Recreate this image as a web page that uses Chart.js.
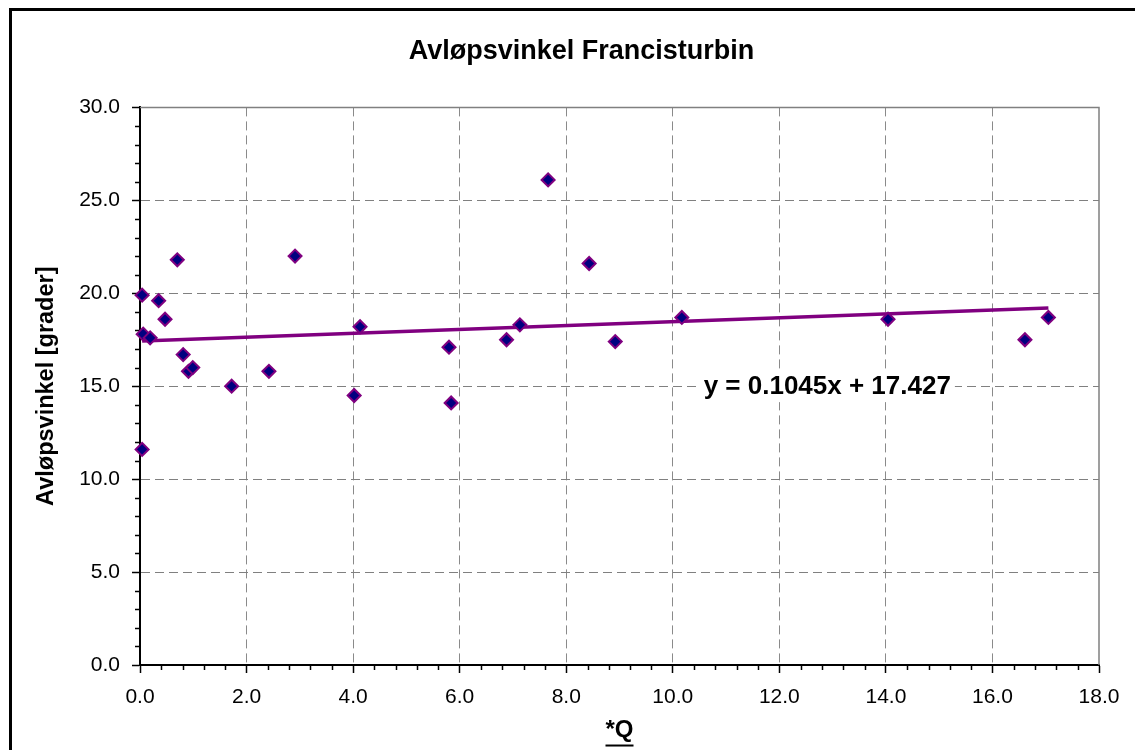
<!doctype html>
<html lang="no">

<head>
  <meta charset="UTF-8">
  <title>Avløpsvinkel Francisturbin</title>
  <style>
    html,
    body {
      margin: 0;
      padding: 0;
      background-color: #fff;
      font-family: 'Liberation Sans', Arial, Helvetica, sans-serif;
    }

    #wrap {
      position: relative;
      width: 1135px;
      height: 750px;
      overflow: hidden;
    }

    #frame {
      position: absolute;
      left: 9px;
      top: 8px;
      width: 1123px;
      height: 800px;
      border: 3px solid #000;
      pointer-events: none;
    }
  </style>
</head>

<body>
  <div id="wrap">
    <canvas id="datavis" width="1135" height="750"></canvas>
    <div id="frame"></div>
  </div>

  <script src="https://cdn.jsdelivr.net/npm/chart.js@4/dist/chart.umd.min.js"></script>

  <script>

    // values
    const qValues = [0.04, 0.04, 0.06, 0.19, 0.35, 0.47, 0.70, 0.81, 0.91, 0.99, 1.72, 2.42, 2.91,
      4.02, 4.13, 5.80, 5.84, 6.88, 7.13, 7.66, 8.43, 8.92, 10.17, 14.04, 16.61, 17.05];
    const angleValues = [19.9, 11.6, 17.8, 17.6, 19.6, 18.6, 21.8, 16.7, 15.8, 16.0, 15.0, 15.8, 22.0,
      14.5, 18.2, 17.1, 14.1, 17.5, 18.3, 26.1, 21.6, 17.4, 18.7, 18.6, 17.5, 18.7];

    // trendline from the equation printed in the chart
    const slope = 0.1045;
    const intercept = 17.427;
    const equationText = 'y = 0.1045x + 17.427';
    const equationAt = { x: 12.9, y: 14.95 };

    const FONT = "'Liberation Sans', Arial, Helvetica, sans-serif";

    const points = qValues.map((q, i) => ({ x: q, y: angleValues[i] }));
    const qMin = Math.min(...qValues);
    const qMax = Math.max(...qValues);
    const trend = [qMin, qMax].map(q => ({ x: q, y: slope * q + intercept }));

    // frame lines, minor ticks, underline of x title, equation label
    const extras = {
      id: 'extras',
      beforeDatasetsDraw(chart) {
        const { ctx, chartArea: a } = chart;
        ctx.save();
        ctx.strokeStyle = '#808080';
        ctx.lineWidth = 1.5;
        ctx.beginPath();
        ctx.moveTo(a.left, a.top);
        ctx.lineTo(a.right, a.top);
        ctx.lineTo(a.right, a.bottom);
        ctx.stroke();

        const xs = chart.scales.x;
        const ys = chart.scales.y;
        ctx.strokeStyle = '#000';
        ctx.lineWidth = 1.5;
        ctx.beginPath();
        for (let i = 1; i < 45; i++) {
          if (i % 5 === 0) continue;
          const px = Math.round(xs.getPixelForValue(i * 0.4)) + 0.5;
          ctx.moveTo(px, a.bottom);
          ctx.lineTo(px, a.bottom + 5);
        }
        for (let i = 1; i < 30; i++) {
          if (i % 5 === 0) continue;
          const py = Math.round(ys.getPixelForValue(i)) + 0.5;
          ctx.moveTo(a.left, py);
          ctx.lineTo(a.left - 5, py);
        }
        ctx.stroke();
        ctx.restore();
      },
      afterDatasetsDraw(chart) {
        const { ctx } = chart;
        const xs = chart.scales.x;
        const ys = chart.scales.y;

        ctx.save();
        ctx.font = 'bold 26px ' + FONT;
        const w = ctx.measureText(equationText).width;
        const cx = xs.getPixelForValue(equationAt.x);
        const cy = ys.getPixelForValue(equationAt.y);
        ctx.fillStyle = '#fff';
        ctx.fillRect(cx - w / 2 - 4, cy - 15, w + 8, 30);
        ctx.fillStyle = '#000';
        ctx.textAlign = 'center';
        ctx.textBaseline = 'middle';
        ctx.fillText(equationText, cx, cy);

        // underline "*Q"
        const t = xs.options.title;
        ctx.font = 'bold ' + t.font.size + 'px ' + FONT;
        const tw = ctx.measureText(t.text).width;
        const tx = (xs.left + xs.right) / 2;
        const ty = xs.bottom - t.padding.bottom - t.font.size * 1.2 / 2 + t.font.size * 0.58;
        ctx.fillRect(tx - tw / 2, ty, tw, 2);
        ctx.restore();
      }
    };

    new Chart('datavis', {
      type: 'scatter',
      data: {
        datasets: [{
          label: 'Avløpsvinkel',
          data: points,
          pointStyle: 'rectRot',
          pointRadius: 6.5,
          pointBackgroundColor: '#000080',
          pointBorderColor: '#800080',
          pointBorderWidth: 2,
          showLine: false,
          clip: false,
          order: 0
        }, {
          label: 'Trend',
          data: trend,
          showLine: true,
          borderColor: '#800080',
          borderWidth: 3.5,
          pointRadius: 0,
          order: 1
        }]
      },
      options: {
        responsive: false,
        animation: false,
        layout: { padding: { left: 28, right: 0, top: 0, bottom: 0 } },
        plugins: {
          legend: { display: false },
          tooltip: { enabled: false },
          title: {
            display: true,
            text: 'Avløpsvinkel Francisturbin',
            color: '#000',
            font: { family: FONT, size: 27, weight: 'bold', lineHeight: 1.2 },
            padding: { top: 35, bottom: 40 }
          }
        },
        scales: {
          x: {
            type: 'linear',
            min: 0,
            max: 18,
            afterFit(s) { s.height = 85; s.paddingRight = 36; },
            ticks: {
              stepSize: 2,
              color: '#000',
              padding: 12,
              font: { family: FONT, size: 21 },
              callback: v => v.toFixed(1)
            },
            grid: {
              color: c => (c.tick && c.tick.value === 18) ? 'rgba(0,0,0,0)' : '#8a8a8a',
              lineWidth: 1,
              tickColor: '#000',
              tickLength: 8,
              tickWidth: 1.5
            },
            border: { color: '#000', width: 2, dash: [9, 5] },
            title: {
              display: true,
              text: '*Q',
              color: '#000',
              font: { family: FONT, size: 24, weight: 'bold', lineHeight: 1.2 },
              padding: { top: 0, bottom: 5 }
            }
          },
          y: {
            min: 0,
            max: 30,
            afterFit(s) { s.width = 112; },
            ticks: {
              stepSize: 5,
              color: '#000',
              padding: 12,
              font: { family: FONT, size: 21 },
              callback: v => v.toFixed(1)
            },
            grid: {
              color: c => (c.tick && c.tick.value === 30) ? 'rgba(0,0,0,0)' : '#808080',
              lineWidth: 1,
              tickColor: '#000',
              tickLength: 8,
              tickWidth: 1.5
            },
            border: { color: '#000', width: 2, dash: [9, 5] },
            title: {
              display: true,
              text: 'Avløpsvinkel [grader]',
              color: '#000',
              font: { family: FONT, size: 23.5, weight: 'bold', lineHeight: 1.2 },
              padding: { top: 4, bottom: 0 }
            }
          }
        }
      },
      plugins: [extras]
    });
  </script>
</body>

</html>
